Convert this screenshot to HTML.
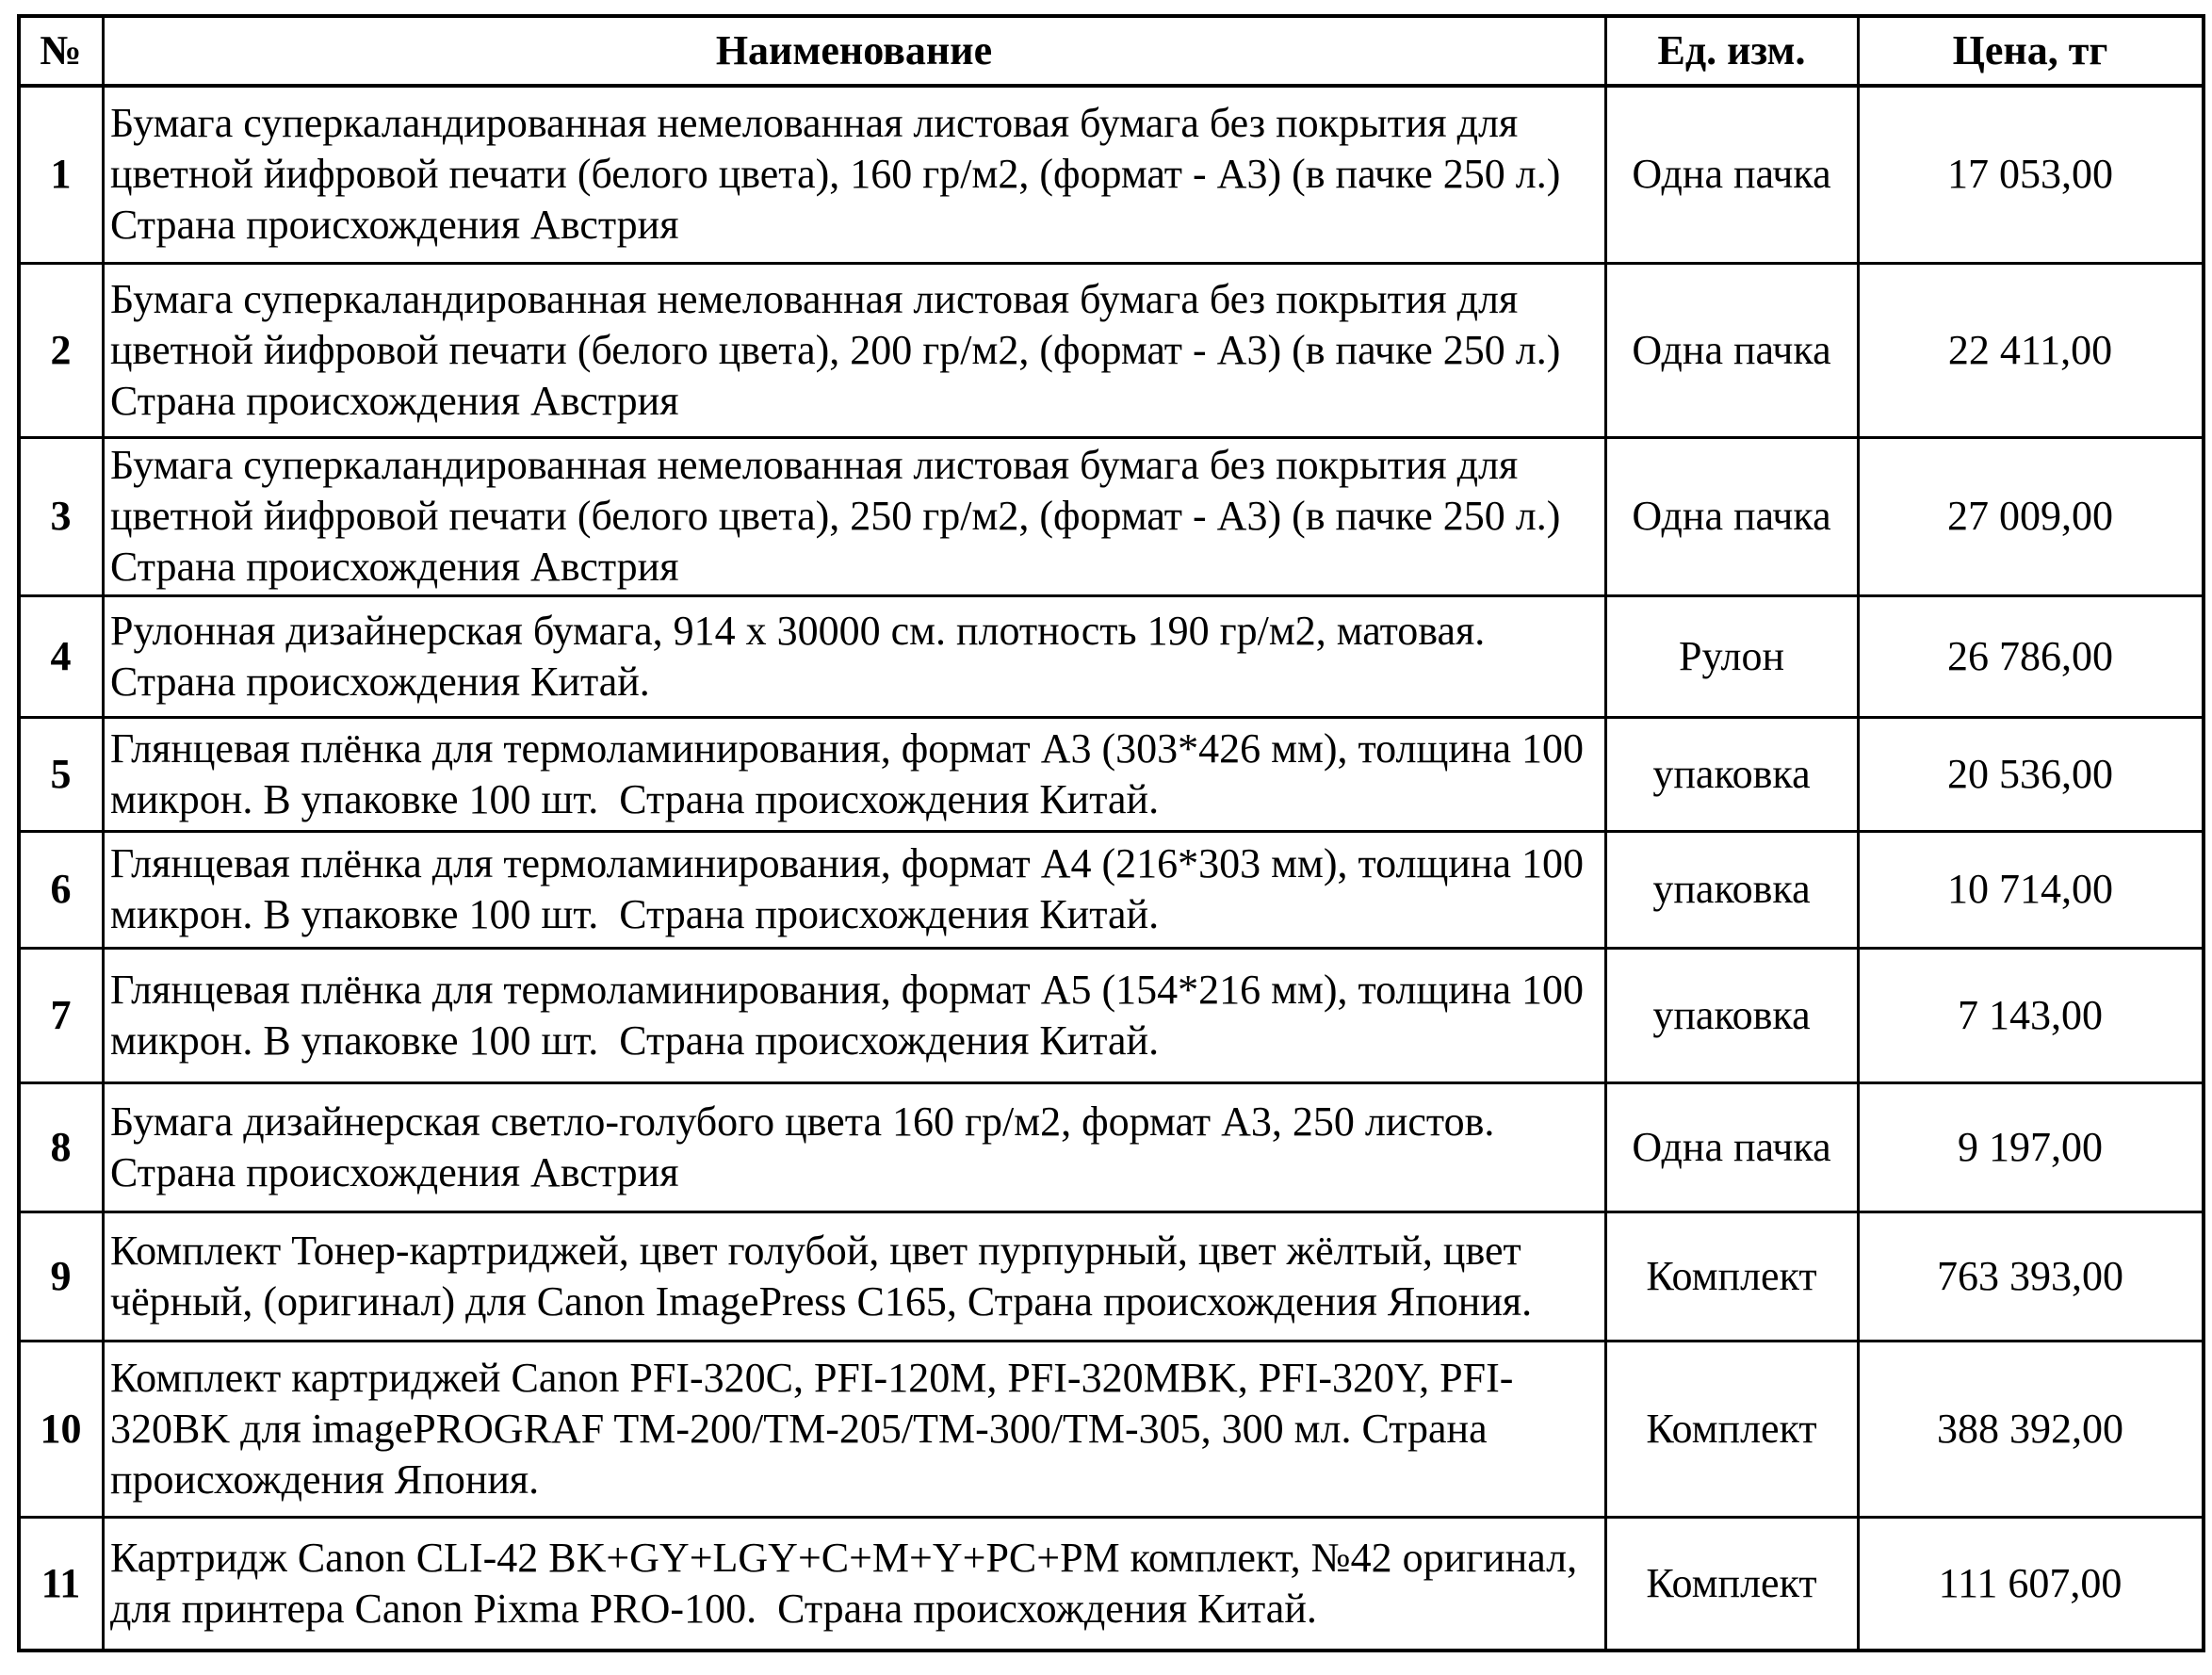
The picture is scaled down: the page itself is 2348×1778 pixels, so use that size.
<!DOCTYPE html>
<html><head><meta charset="utf-8"><style>
body{margin:0;background:#fff;width:2348px;height:1778px;position:relative;overflow:hidden;font-family:"Liberation Serif","Times New Roman","DejaVu Serif",serif;color:#000}
.h{position:absolute;left:18px;width:2323px;height:3px;background:#000}
.v{position:absolute;top:15px;height:1739px;width:3px;background:#000}
.c{position:absolute;display:flex;align-items:center;font-size:44px;line-height:54px;box-sizing:border-box}
.n{justify-content:center;font-weight:bold;text-align:center}
.t{padding-left:8px;padding-right:4px;white-space:nowrap}
.m{justify-content:center;text-align:center}
.b{font-weight:bold}
</style></head><body>
<div class="h" style="top:15px;height:4px"></div>
<div class="h" style="top:89px;height:4px"></div>
<div class="h" style="top:278px"></div>
<div class="h" style="top:463px"></div>
<div class="h" style="top:631px"></div>
<div class="h" style="top:760px"></div>
<div class="h" style="top:881px"></div>
<div class="h" style="top:1005px"></div>
<div class="h" style="top:1148px"></div>
<div class="h" style="top:1285px"></div>
<div class="h" style="top:1422px"></div>
<div class="h" style="top:1609px"></div>
<div class="h" style="top:1750px;height:4px"></div>
<div class="v" style="left:18px;width:4px"></div>
<div class="v" style="left:108px"></div>
<div class="v" style="left:1703px"></div>
<div class="v" style="left:1971px"></div>
<div class="v" style="left:2337px;width:4px"></div>

<div id="rows"></div>
<script>
const Y=[16,91,279,464,632,761,882,1006,1149,1286,1423,1610,1751];
const X=[20,109,1704,1972,2338];
const rows=[
["№","Наименование","Ед. изм.","Цена, тг",1],
["1","Бумага суперкаландированная немелованная листовая бумага без покрытия для<br>цветной йифровой печати (белого цвета), 160 гр/м2, (формат - А3) (в пачке 250 л.)<br>Страна происхождения Австрия","Одна пачка","17 053,00"],
["2","Бумага суперкаландированная немелованная листовая бумага без покрытия для<br>цветной йифровой печати (белого цвета), 200 гр/м2, (формат - А3) (в пачке 250 л.)<br>Страна происхождения Австрия","Одна пачка","22 411,00"],
["3","Бумага суперкаландированная немелованная листовая бумага без покрытия для<br>цветной йифровой печати (белого цвета), 250 гр/м2, (формат - А3) (в пачке 250 л.)<br>Страна происхождения Австрия","Одна пачка","27 009,00"],
["4","Рулонная дизайнерская бумага, 914 х 30000 см. плотность 190 гр/м2, матовая.<br>Страна происхождения Китай.","Рулон","26 786,00"],
["5","Глянцевая плёнка для термоламинирования, формат А3 (303*426 мм), толщина 100<br>микрон. В упаковке 100 шт.&nbsp; Страна происхождения Китай.","упаковка","20 536,00"],
["6","Глянцевая плёнка для термоламинирования, формат А4 (216*303 мм), толщина 100<br>микрон. В упаковке 100 шт.&nbsp; Страна происхождения Китай.","упаковка","10 714,00"],
["7","Глянцевая плёнка для термоламинирования, формат А5 (154*216 мм), толщина 100<br>микрон. В упаковке 100 шт.&nbsp; Страна происхождения Китай.","упаковка","7 143,00"],
["8","Бумага дизайнерская светло-голубого цвета 160 гр/м2, формат А3, 250 листов.<br>Страна происхождения Австрия","Одна пачка","9 197,00"],
["9","Комплект Тонер-картриджей, цвет голубой, цвет пурпурный, цвет жёлтый, цвет<br>чёрный, (оригинал) для Canon ImagePress C165, Страна происхождения Япония.","Комплект","763 393,00"],
["10","Комплект картриджей Canon PFI-320C, PFI-120M, PFI-320MBK, PFI-320Y, PFI-<br>320BK для imagePROGRAF TM-200/TM-205/TM-300/TM-305, 300 мл. Страна<br>происхождения Япония.","Комплект","388 392,00"],
["11","Картридж Canon CLI-42 BK+GY+LGY+C+M+Y+PC+PM комплект, №42 оригинал,<br>для принтера Canon Pixma PRO-100.&nbsp; Страна происхождения Китай.","Комплект","111 607,00"]];
let h="";
rows.forEach((r,i)=>{const t=Y[i],hh=Y[i+1]-Y[i];
 const s=(x0,x1)=>`top:${t}px;height:${hh}px;left:${X[x0]}px;width:${X[x1]-X[x0]}px`;
 h+=`<div class="c n" style="${s(0,1)}">${r[0]}</div>`;
 h+=`<div class="c ${r[4]?'m b':'t'}" style="${s(1,2)}"><div>${r[1]}</div></div>`;
 h+=`<div class="c m ${r[4]?'b':''}" style="${s(2,3)}">${r[2]}</div>`;
 h+=`<div class="c m ${r[4]?'b':''}" style="${s(3,4)}">${r[3]}</div>`;});
document.getElementById("rows").innerHTML=h;
</script>
</body></html>
